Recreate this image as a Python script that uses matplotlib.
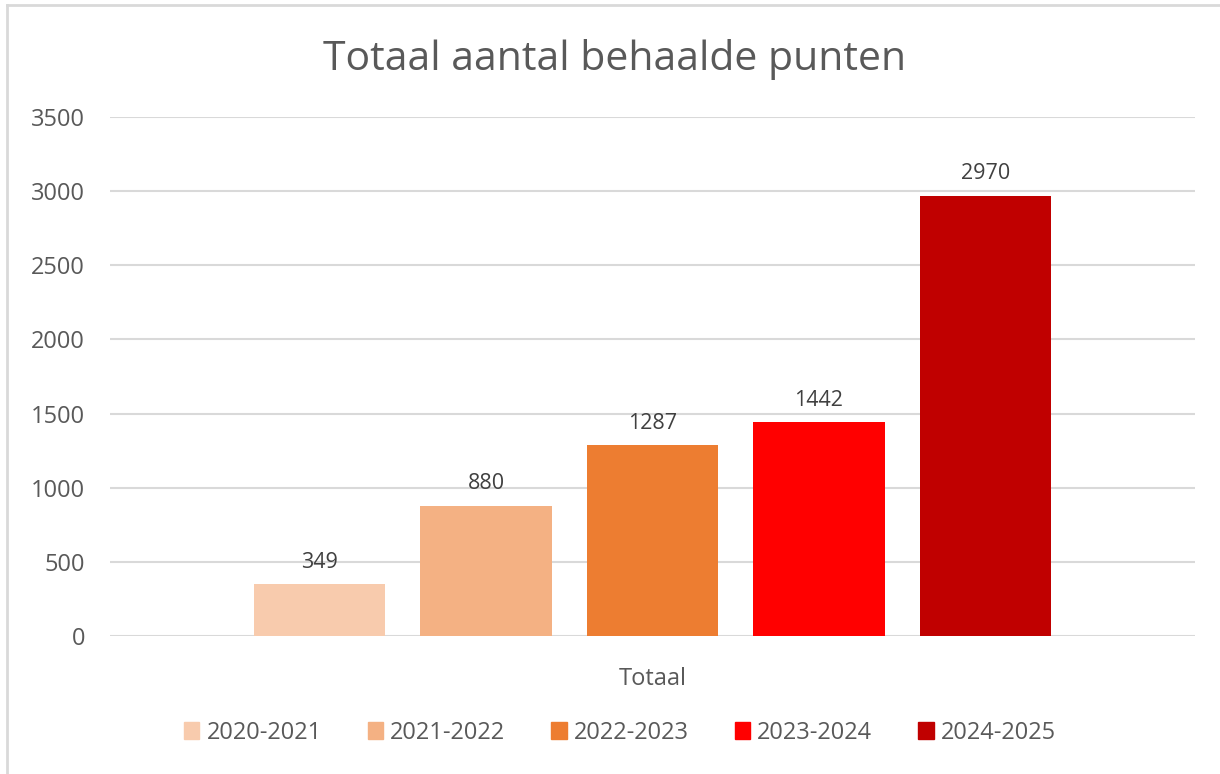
import numpy as np
from matplotlib import pyplot as plt
from matplotlib.lines import Line2D
from matplotlib.patches import Patch

# Data
seasons = ['2020-2021', '2021-2022', '2022-2023', '2023-2024', '2024-2025']
points = [349, 880, 1287, 1442, 2970]
colors = ['#F8CBAD', '#F4B183', '#ED7D31', '#FF0000', '#C00000']
category = 'Totaal'
yticks = [0, 500, 1000, 1500, 2000, 2500, 3000, 3500]

W, H = 1220, 774
fig = plt.figure(figsize=(W/100, H/100), dpi=100)
ax = fig.add_axes([110/W, 1-636/H, (1195-110)/W, (636-117)/H])

grey = '#595959'
font = 'Open Sans'

# Bars
x = np.arange(len(points))
for i in range(len(points)):
    ax.bar(x[i], points[i], width=0.79, color=colors[i], label=seasons[i], zorder=2)
    ax.annotate(str(points[i]), (x[i], points[i]), xytext=(0, 8), textcoords='offset points',
                ha='center', va='bottom', fontsize=15.5, color='#404040', family=font)

ax.set_xlim(-1.26, 5.26)
ax.set_ylim(0, 3500)
ax.set_yticks(yticks)
ax.set_yticklabels([str(t) for t in yticks], fontsize=17, color=grey, family=font)
ax.tick_params(axis='y', length=0, pad=18)
ax.set_xticks([2])
ax.set_xticklabels([category], fontsize=17, color=grey, family=font)
ax.tick_params(axis='x', length=0, pad=22)
ax.yaxis.grid(True, color='#D9D9D9', linewidth=1.5, zorder=0)
for s in ax.spines.values():
    s.set_visible(False)

fig.text(615/W, 1-70/H, 'Totaal aantal behaalde punten', fontsize=29.5, color=grey, family=font,
         ha='center', va='baseline')

# Legend
handles = [Patch(color=c) for c in colors]
fig.legend(handles, seasons, loc='center', bbox_to_anchor=(620/W, 1-733/H), ncol=5,
           frameon=False, prop={'family': font, 'size': 17}, labelcolor=grey,
           handletextpad=0.3, columnspacing=1.95, handlelength=0.65, handleheight=0.7)

# chart border (top and left visible)
fig.add_artist(Line2D([7/W, 7/W], [0, 1-5/H], color='#D9D9D9', linewidth=2, transform=fig.transFigure))
fig.add_artist(Line2D([7/W, 1], [1-5/H, 1-5/H], color='#D9D9D9', linewidth=2, transform=fig.transFigure))

fig.savefig('out.png', dpi=100)
